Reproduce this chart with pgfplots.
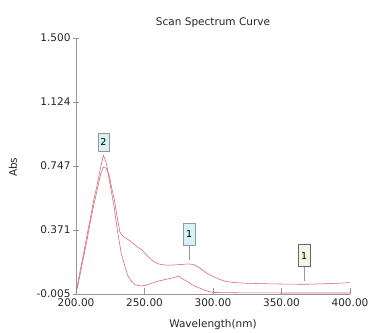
\documentclass[border=0pt]{standalone}
\usepackage{pgfplots}
\pgfplotsset{compat=1.18}
\usepackage{fontspec}
\setmainfont{DejaVu Sans}
\definecolor{curve}{RGB}{214,100,115}
\definecolor{axgray}{RGB}{150,150,150}
\definecolor{boxcyan}{RGB}{214,242,244}
\definecolor{boxbeige}{RGB}{246,244,226}
\begin{document}
\begin{tikzpicture}
\useasboundingbox (-76pt,-38pt) rectangle (293pt,294pt);
\begin{axis}[
  at={(0,0)}, anchor=south west,
  scale only axis, width=274pt, height=256pt,
  xmin=200, xmax=400, ymin=-0.005, ymax=1.5,
  axis x line*=bottom, axis y line*=left,
  axis line style={axgray, line width=0.6pt, -},
  xtick={200,250,300,350,400},
  xticklabels={200.00,250.00,300.00,350.00,400.00},
  ytick={-0.005,0.371,0.747,1.124,1.5},
  yticklabels={-0.005,0.371,0.747,1.124,1.500},
  x tick style={axgray, line width=0.5pt},
  y tick style={axgray, line width=0.5pt},
  xtick align=inside, ytick align=center,
  major tick length=6pt,
  tick label style={font=\fontsize{10.5}{12}\selectfont, text=black!85},
  x tick label style={yshift=-1pt},
  y tick label style={xshift=1pt},
  clip=false,
]
% broad curve
\addplot[curve, line width=0.55pt] coordinates {
(200,0.0) (202,0.07) (205,0.19) (208,0.31) (210,0.40) (213,0.52) (215,0.59) (218,0.70) (220,0.74) (222,0.735) (224,0.70) (226,0.62) (228,0.55) (230,0.45) (232,0.36) (235,0.33) (239,0.31) (242,0.29) (245,0.27) (248,0.255) (252,0.22) (256,0.19) (260,0.172) (265,0.165) (270,0.165) (276,0.168) (282,0.172) (286,0.168) (290,0.15) (295,0.12) (300,0.098) (305,0.08) (310,0.068) (316,0.062) (325,0.058) (340,0.055) (355,0.053) (368,0.052) (380,0.055) (390,0.058) (400,0.062)
};
% sharp curve
\addplot[curve, line width=0.55pt] coordinates {
(200,0.0) (202,0.09) (205,0.21) (208,0.34) (210,0.42) (213,0.55) (215,0.62) (218,0.74) (220,0.81) (222,0.77) (224,0.68) (226,0.59) (228,0.50) (230,0.38) (233,0.235) (236,0.15) (238,0.10) (240,0.075) (243,0.05) (247,0.042) (250,0.045) (255,0.058) (260,0.071) (265,0.080) (270,0.089) (275,0.10) (278,0.083) (282,0.065) (285,0.048) (289,0.034) (292,0.024) (296,0.012) (300,0.004) (320,0.002) (350,0.001) (400,0.001)
};
% annotation boxes
\node[draw=axgray, fill=boxcyan, line width=0.4pt, minimum width=11pt, minimum height=18pt, inner sep=0pt, font=\fontsize{9.5}{10}\selectfont] at (axis cs:220,0.889) {2};
\draw[axgray, line width=0.5pt] (axis cs:282.5,0.283) -- (axis cs:282.5,0.195);
\node[draw=axgray, fill=boxcyan, line width=0.4pt, minimum width=12pt, minimum height=22pt, inner sep=0pt, font=\fontsize{9.5}{10}\selectfont] at (axis cs:282.5,0.348) {1};
\draw[axgray, line width=0.5pt] (axis cs:366.5,0.157) -- (axis cs:366.5,0.071);
\node[draw=black!60, fill=boxbeige, line width=0.4pt, minimum width=12pt, minimum height=22pt, inner sep=0pt, font=\fontsize{9.5}{10}\selectfont] at (axis cs:366.5,0.221) {1};
% titles
\node[font=\fontsize{10.5}{12}\selectfont, text=black!85] at (rel axis cs:0.5,1) [yshift=15pt] {Scan Spectrum Curve};
\node[font=\fontsize{10.5}{12}\selectfont, text=black!85] at (rel axis cs:0.5,0) [yshift=-31pt] {Wavelength(nm)};
\node[font=\fontsize{10.5}{12}\selectfont, text=black!85] at (rel axis cs:0,0.495) [xshift=-63pt, rotate=90] {Abs};
\end{axis}
\end{tikzpicture}
\end{document}
